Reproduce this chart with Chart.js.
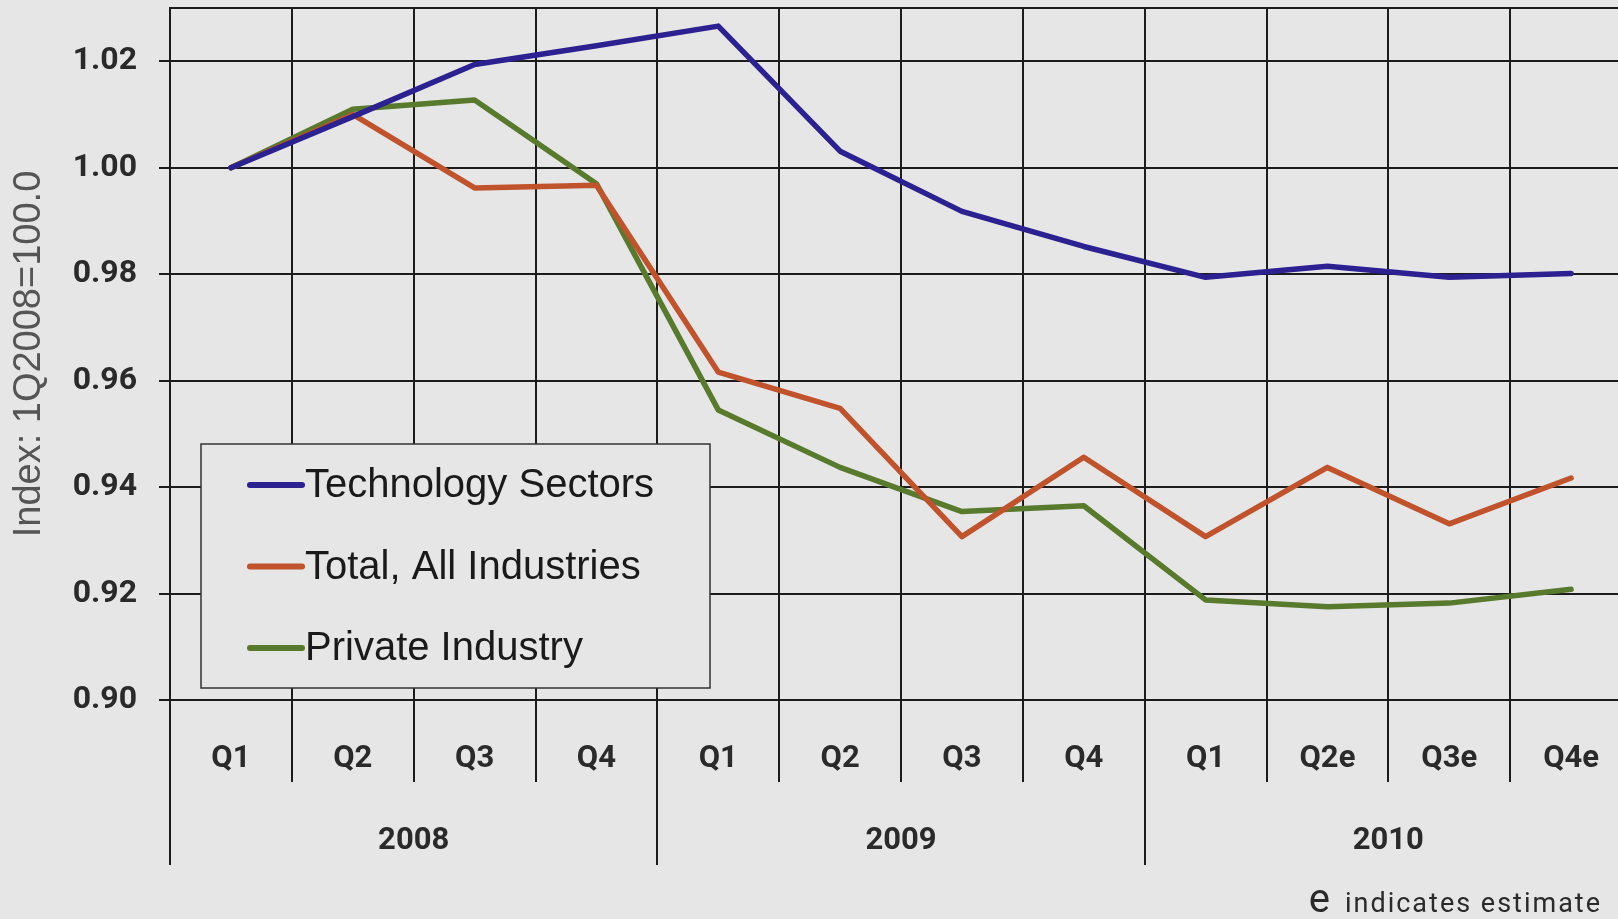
<!DOCTYPE html>
<html>
<head>
<meta charset="utf-8">
<script src="https://cdn.jsdelivr.net/npm/chart.js@4.4.1/dist/chart.umd.min.js"></script>
<style>
  html, body { margin: 0; padding: 0; background: #e6e6e6; overflow: hidden; }
  #wrap { width: 1618px; height: 919px; overflow: hidden; background: #e6e6e6; }
  canvas { display: block; }
</style>
</head>
<body>
<div id="wrap"><canvas id="employment-index" width="1650" height="919"></canvas></div>
<script>
// Quarterly employment index, 1Q2008 = 1.00
const quarters = ['Q1', 'Q2', 'Q3', 'Q4', 'Q1', 'Q2', 'Q3', 'Q4', 'Q1', 'Q2e', 'Q3e', 'Q4e'];
const years = ['2008', '2009', '2010'];
const yTicks = [0.90, 0.92, 0.94, 0.96, 0.98, 1.00, 1.02];
const yMin = 0.90;
const yMax = 1.03;

const technology = [1.000, 1.0096, 1.0194, 1.0229, 1.0266, 1.0031, 0.9918, 0.9852, 0.9794, 0.9815, 0.9794, 0.9801];
const totalIndustries = [1.000, 1.0100, 0.9962, 0.9967, 0.9616, 0.9548, 0.9307, 0.9456, 0.9307, 0.9437, 0.9331, 0.9417];
const privateIndustry = [1.000, 1.0110, 1.0127, 0.9970, 0.9545, 0.9437, 0.9354, 0.9365, 0.9188, 0.9175, 0.9182, 0.9208];

const colors = {
  tech: '#2b2190',
  total: '#c0532b',
  private: '#587a2c',
  grid: '#1c1c1c',
  text: '#2a2a2a',
  title: '#555555',
  bg: '#e6e6e6',
};

// Legend box drawn inside the plot, plus the footnote under the axis
const boxLegend = {
  id: 'boxLegend',
  afterDraw(chart) {
    const { ctx } = chart;
    ctx.save();
    ctx.fillStyle = colors.bg;
    ctx.fillRect(201, 444, 509, 244);
    ctx.strokeStyle = '#333';
    ctx.lineWidth = 1.5;
    ctx.strokeRect(201, 444, 509, 244);

    ctx.font = '40px "Liberation Sans", Arial, sans-serif';
    ctx.textBaseline = 'middle';
    ctx.textAlign = 'left';
    chart.data.datasets.forEach((ds, i) => {
      const y = 485 + i * 81.5;
      ctx.strokeStyle = ds.borderColor;
      ctx.lineWidth = 6;
      ctx.lineCap = 'round';
      ctx.beginPath();
      ctx.moveTo(250, y);
      ctx.lineTo(302, y);
      ctx.stroke();
      ctx.fillStyle = '#1a1a1a';
      ctx.fillText(ds.label, 305, y + 1);
    });

    // footnote
    ctx.fillStyle = colors.text;
    ctx.textBaseline = 'alphabetic';
    ctx.textAlign = 'right';
    ctx.font = '27px Roboto, sans-serif';
    ctx.letterSpacing = '2px';
    ctx.fillText('indicates estimate', 1602, 912);
    ctx.letterSpacing = '0px';
    ctx.font = '40px Roboto, sans-serif';
    ctx.fillText('e', 1330, 912);
    ctx.restore();
  },
};

const tickFont = { family: 'Roboto, sans-serif', weight: 'bold', size: 31 };

new Chart(document.getElementById('employment-index'), {
  type: 'line',
  data: {
    labels: quarters,
    datasets: [
      { label: 'Technology Sectors', data: technology, borderColor: colors.tech },
      { label: 'Total, All Industries', data: totalIndustries, borderColor: colors.total },
      { label: 'Private Industry', data: privateIndustry, borderColor: colors.private },
    ],
  },
  options: {
    responsive: false,
    animation: false,
    layout: { padding: { top: 8, right: 18, bottom: 0, left: 0 } },
    elements: {
      line: { borderWidth: 5.5, tension: 0, borderJoinStyle: 'round', borderCapStyle: 'round' },
      point: { radius: 0 },
    },
    scales: {
      y: {
        min: yMin,
        max: yMax,
        afterBuildTicks: (scale) => {
          scale.ticks = [...yTicks, yMax].map((v) => ({ value: v }));
        },
        afterFit: (scale) => {
          scale.width = 170;
          scale.paddingTop = 0;
          scale.paddingBottom = 0;
        },
        border: { display: true, color: colors.grid, width: 2 },
        grid: {
          color: colors.grid,
          lineWidth: 2,
          tickLength: 11,
          tickColor: (c) => (c.tick && c.tick.value > 1.025 ? 'rgba(0,0,0,0)' : colors.grid),
        },
        ticks: {
          color: colors.text,
          font: { family: 'Roboto, sans-serif', weight: 'bold', size: 32 },
          padding: 22,
          callback: (v) => (v > 1.025 ? '' : Number(v).toFixed(2)),
        },
        title: {
          display: true,
          text: 'Index: 1Q2008=100.0',
          color: colors.title,
          font: { family: '"Liberation Sans", Arial, sans-serif', size: 38 },
          padding: { top: 7, bottom: 0 },
        },
      },
      x: {
        type: 'category',
        offset: true,
        afterFit: (scale) => { scale.height = 82; },
        border: { display: false },
        grid: { offset: true, color: colors.grid, lineWidth: 2, tickLength: 82, tickColor: colors.grid },
        ticks: { color: colors.text, font: tickFont, padding: -41, maxRotation: 0, autoSkip: false },
      },
      years: {
        type: 'category',
        labels: years,
        position: 'bottom',
        offset: true,
        afterFit: (scale) => { scale.height = 137; },
        border: { display: false },
        grid: { offset: true, drawOnChartArea: false, color: colors.grid, lineWidth: 2, tickLength: 83, tickColor: colors.grid },
        ticks: { color: colors.text, font: tickFont, padding: -42, maxRotation: 0, autoSkip: false },
      },
    },
    plugins: {
      legend: { display: false },
      tooltip: { enabled: false },
    },
  },
  plugins: [boxLegend],
});
</script>
</body>
</html>
